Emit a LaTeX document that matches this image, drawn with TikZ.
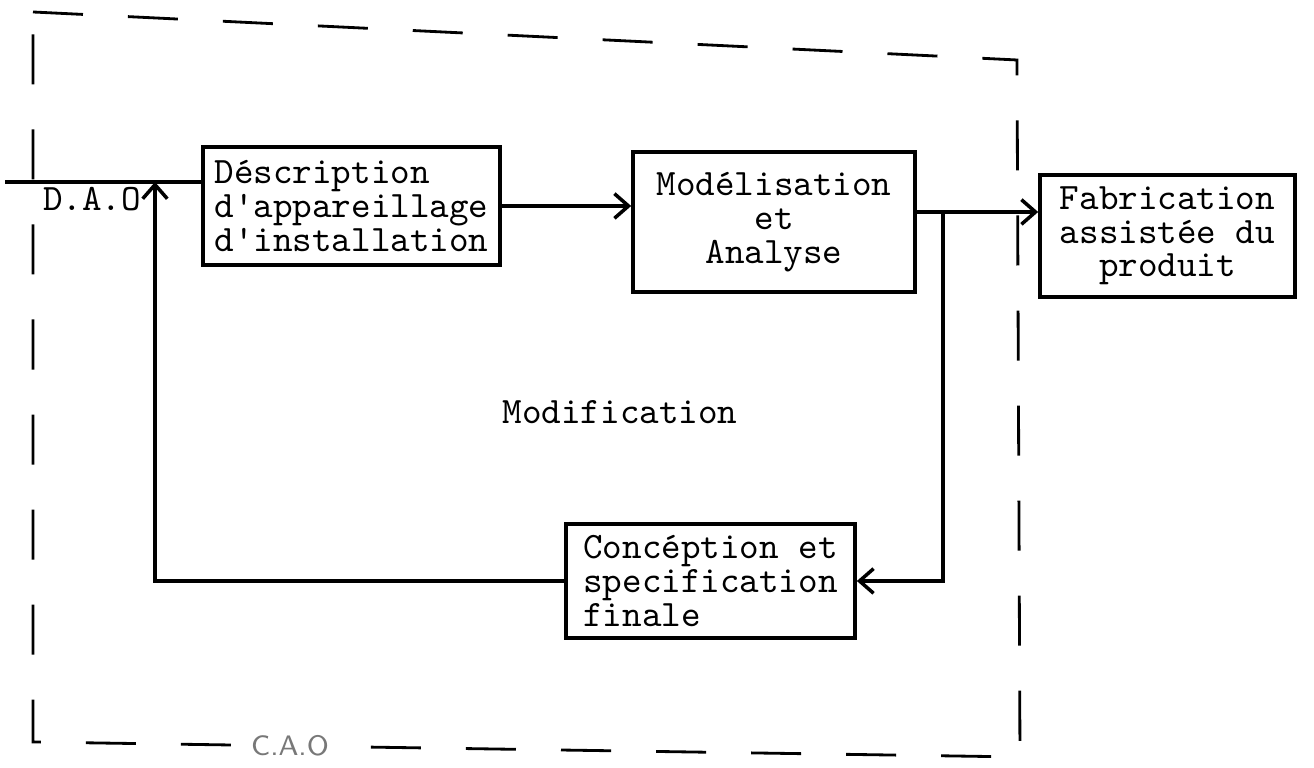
\documentclass[tikz,border=0pt]{standalone}
\usepackage{fontspec}
\usepackage{tikz}
\usetikzlibrary{arrows.meta,positioning,calc}
\definecolor{inkgray}{RGB}{120, 120, 120}
\newcommand{\machine}{\ttfamily\fontsize{10.6}{9.6}\selectfont\lineskiplimit=-10pt}

\begin{document}
\begin{tikzpicture}[x=0.01cm, y=-0.01cm, >={Straight Barb[length=4pt,width=7pt]},
    bloc/.style={draw, line width=1pt, inner xsep=0.08cm, font=\machine},
    fleche/.style={line width=1pt},
    cadre/.style={line width=0.8pt, dash pattern=on 0.5cm off 0.45cm}]
    \useasboundingbox (0,0) rectangle (1314,768);

    % Dashed frame (C.A.O)
    \draw[cadre] (33,12) -- (1017,60) -- (1020,757) -- (33,742) -- cycle;
    \node[fill=white, text=inkgray, font=\sffamily\fontsize{8}{9}\selectfont, inner xsep=3pt, inner ysep=1pt] (cao) at (290,746) {C.A.O};

    % Boxes
    \node[bloc, align=left, minimum width=2.97cm, minimum height=1.18cm] (descr) at (351.5,206)
        {Déscription\\d'appareillage\\d'installation};
    \node[bloc, align=center, minimum width=2.82cm, minimum height=1.40cm] (model) at (774,222)
        {Modélisation\\et\\Analyse};
    \node[bloc, align=center, minimum width=2.55cm, minimum height=1.12cm] (fab) at (1167.5,236)
        {Fabrication\\assistée du\\produit};
    \node[bloc, align=left, minimum width=2.89cm, minimum height=0.98cm] (concep) at (710.5,581)
        {Concéption et\\specification\\finale};

    % Labels
    \node[font=\machine] (dao) at (92,199) {D.A.O};
    \node[font=\machine] (modif) at (620,412) {Modification};

    % Junction points
    \coordinate (entree) at (5,182);
    \coordinate (retour) at (155,182);
    \coordinate (branche) at (943,212);

    % Connectors
    \draw[fleche] (entree) -- (entree -| descr.west);
    \draw[fleche, ->] (concep.west) -| (retour);
    \draw[fleche, ->] (descr.east) -- (descr.east -| model.west);
    \draw[fleche, ->] (branche -| model.east) -- (branche -| fab.west);
    \draw[fleche, ->] (branche) |- (concep.east);
\end{tikzpicture}
\end{document}
